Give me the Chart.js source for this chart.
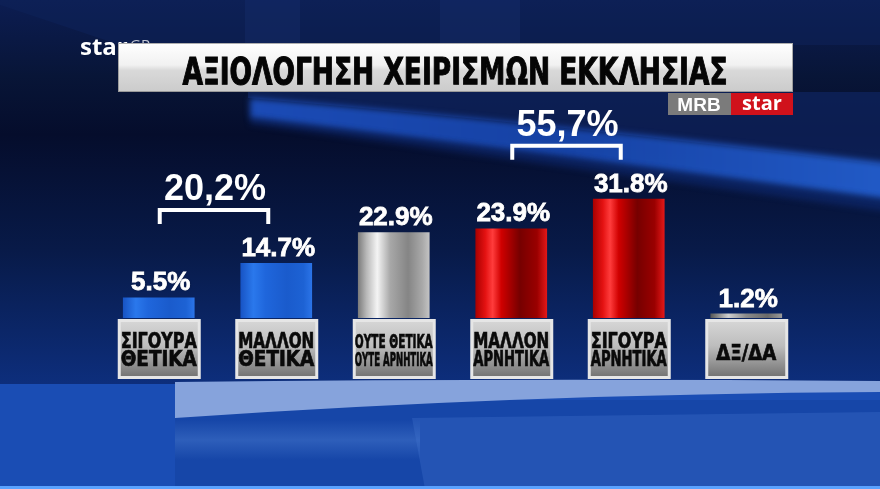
<!DOCTYPE html>
<html>
<head>
<meta charset="utf-8">
<script src="https://cdn.jsdelivr.net/npm/chart.js@4.4.1/dist/chart.umd.min.js"></script>
<style>
  html, body { margin: 0; padding: 0; background: #081640; }
  #wrap { width: 880px; height: 489px; }
</style>
</head>
<body>
<div id="wrap"><canvas id="pollChart" width="880" height="489"></canvas></div>
<script>
// data
const title = 'ΑΞΙΟΛΟΓΗΣΗ ΧΕΙΡΙΣΜΩΝ ΕΚΚΛΗΣΙΑΣ';
const categories = [
  ['ΣΙΓΟΥΡΑ', 'ΘΕΤΙΚΑ'],
  ['ΜΑΛΛΟΝ', 'ΘΕΤΙΚΑ'],
  ['ΟΥΤΕ ΘΕΤΙΚΑ', 'ΟΥΤΕ ΑΡΝΗΤΙΚΑ'],
  ['ΜΑΛΛΟΝ', 'ΑΡΝΗΤΙΚΑ'],
  ['ΣΙΓΟΥΡΑ', 'ΑΡΝΗΤΙΚΑ'],
  ['ΔΞ/ΔΑ']
];
const values = [5.5, 14.7, 22.9, 23.9, 31.8, 1.2];
const groupTotals = ['20,2%', '55,7%'];
const groupFirst = [0, 3];
const groupLast = [1, 4];

// bar look
const barKinds = ['blue', 'blue', 'silver', 'red', 'red', 'dark'];
const palettes = {
  blue: [[0, '#1753c4'], [0.18, '#2a78ec'], [0.35, '#1f66dc'], [0.65, '#1a5bcc'], [0.88, '#1d62d4'], [1, '#2b74e8']],
  silver: [[0, '#7a7a7a'], [0.12, '#b8b8b8'], [0.27, '#f4f4f4'], [0.45, '#a8a8a8'], [0.7, '#858585'], [0.9, '#a9a9a9'], [1, '#c4c4c4']],
  red: [[0, '#a80000'], [0.14, '#e41212'], [0.24, '#ff3c3c'], [0.36, '#d00000'], [0.62, '#760000'], [0.86, '#9a0000'], [1, '#e41818']],
  dark: [[0, '#555'], [0.25, '#cfcfcf'], [0.5, '#8a8a8a'], [0.8, '#6a6a6a'], [1, '#9a9a9a']]
};
const BAR_PCT = 0.61;

function barFill(c) {
  const chart = c.chart;
  const xs = chart.scales.x;
  const kind = barKinds[c.dataIndex];
  if (!xs || !chart.chartArea) return palettes[kind][2][1];
  const cx = xs.getPixelForValue(c.dataIndex);
  const w = xs.width / categories.length * BAR_PCT;
  const g = chart.ctx.createLinearGradient(cx - w / 2, 0, cx + w / 2, 0);
  palettes[kind].forEach(s => g.addColorStop(s[0], s[1]));
  return g;
}

const backdrop = {
  id: 'backdrop',
  beforeDraw(chart) {
    const ctx = chart.ctx;
    const W = chart.width, H = chart.height;
    ctx.save();
    let g = ctx.createLinearGradient(0, 0, 0, 384);
    g.addColorStop(0, '#0c1d52');
    g.addColorStop(0.2, '#081537');
    g.addColorStop(0.35, '#050d2c');
    g.addColorStop(0.65, '#081a48');
    g.addColorStop(1, '#0d2e7c');
    ctx.fillStyle = g;
    ctx.fillRect(0, 0, W, H);

    // lighter top strip and its diagonal edge on the left
    ctx.fillStyle = 'rgba(14,34,90,0.55)';
    ctx.beginPath();
    ctx.moveTo(0, 0); ctx.lineTo(W, 0); ctx.lineTo(W, 45); ctx.lineTo(120, 45); ctx.lineTo(0, 5);
    ctx.closePath(); ctx.fill();
    ctx.fillStyle = 'rgba(40,70,150,0.16)';
    ctx.fillRect(245, 0, 55, 43);
    ctx.fillRect(440, 0, 80, 43);

    // medium navy area under the title, right side
    ctx.fillStyle = 'rgba(16,40,105,0.6)';
    ctx.beginPath();
    ctx.moveTo(248, 92); ctx.lineTo(W, 92); ctx.lineTo(W, 165);
    ctx.quadraticCurveTo(560, 124, 248, 98);
    ctx.closePath(); ctx.fill();

    // blue swoosh band, soft edges
    ctx.filter = 'blur(3px)';
    g = ctx.createLinearGradient(248, 0, W, 0);
    g.addColorStop(0, 'rgba(30,82,196,0.9)');
    g.addColorStop(0.5, 'rgba(26,76,186,0.85)');
    g.addColorStop(1, 'rgba(36,96,210,0.92)');
    ctx.fillStyle = g;
    ctx.beginPath();
    ctx.moveTo(250, 98);
    ctx.quadraticCurveTo(560, 124, W + 10, 163);
    ctx.lineTo(W + 10, 200);
    ctx.quadraticCurveTo(560, 156, 250, 118);
    ctx.closePath(); ctx.fill();
    ctx.fillStyle = 'rgba(20,60,160,0.35)';
    ctx.beginPath();
    ctx.moveTo(250, 118);
    ctx.quadraticCurveTo(560, 156, W + 10, 200);
    ctx.lineTo(W + 10, 212);
    ctx.quadraticCurveTo(560, 166, 250, 124);
    ctx.closePath(); ctx.fill();
    ctx.filter = 'none';

    // floor
    ctx.fillStyle = '#1a4db4';
    ctx.fillRect(0, 384, W, H - 384);
    ctx.fillStyle = '#1646a8';
    ctx.fillRect(175, 400, W - 175, H - 400);
    ctx.fillStyle = '#86a3dc';
    ctx.beginPath();
    ctx.moveTo(175, 382);
    ctx.quadraticCurveTo(520, 378, W, 381);
    ctx.lineTo(W, 392);
    ctx.quadraticCurveTo(520, 394, 175, 418);
    ctx.closePath(); ctx.fill();
    g = ctx.createLinearGradient(0, 420, 0, 460);
    g.addColorStop(0, 'rgba(90,140,220,0)');
    g.addColorStop(0.5, 'rgba(90,140,220,0.35)');
    g.addColorStop(1, 'rgba(90,140,220,0)');
    ctx.fillStyle = g;
    ctx.fillRect(175, 420, 245, 40);
    ctx.fillStyle = 'rgba(70,120,210,0.3)';
    ctx.beginPath();
    ctx.moveTo(412, 418); ctx.lineTo(W, 412); ctx.lineTo(W, H); ctx.lineTo(425, H);
    ctx.closePath(); ctx.fill();
    ctx.fillStyle = '#5aa2ff';
    ctx.fillRect(0, 486, W, 3);

    // channel logo
    ctx.textBaseline = 'alphabetic';
    ctx.textAlign = 'left';
    ctx.font = '15px "Open Sans", sans-serif';
    ctx.fillStyle = 'rgba(255,255,255,0.75)';
    ctx.fillText('GR', 130, 50);
    ctx.fillStyle = '#ffffff';
    ctx.font = 'bold 24px "Open Sans", "DejaVu Sans", sans-serif';
    ctx.fillText('star', 80, 55);

    // title plate
    g = ctx.createLinearGradient(0, 43, 0, 92);
    g.addColorStop(0, '#ffffff');
    g.addColorStop(0.45, '#f1f1f1');
    g.addColorStop(0.56, '#d9d9d9');
    g.addColorStop(1, '#cbcbcb');
    ctx.fillStyle = g;
    ctx.fillRect(118, 43, 675, 49);
    ctx.strokeStyle = 'rgba(120,120,120,0.6)';
    ctx.lineWidth = 1;
    ctx.strokeRect(118.5, 43.5, 674, 48);
    ctx.fillStyle = '#050505';
    ctx.strokeStyle = '#050505';
    ctx.lineWidth = 1;
    ctx.font = 'bold 37px "Liberation Sans Narrow", "DejaVu Sans Condensed", sans-serif';
    ctx.textAlign = 'center';
    ctx.fillText(title, 455, 84, 545);
    ctx.strokeText(title, 455, 84, 545);

    // pollster tag
    ctx.fillStyle = '#7b7b7b';
    ctx.fillRect(668, 93, 63, 22);
    ctx.fillStyle = '#d0111b';
    ctx.fillRect(731, 93, 62, 22);
    ctx.fillStyle = '#ffffff';
    ctx.font = 'bold 19px "Liberation Sans", Arial, sans-serif';
    ctx.fillText('MRB', 699, 111);
    ctx.font = 'bold 20px "Open Sans", sans-serif';
    ctx.fillText('star', 762, 110);
    ctx.restore();
  }
};

const annotations = {
  id: 'annotations',
  afterDatasetsDraw(chart) {
    const ctx = chart.ctx;
    const meta = chart.getDatasetMeta(0);
    const base = chart.scales.y.getPixelForValue(0);
    ctx.save();
    ctx.textAlign = 'center';
    ctx.textBaseline = 'alphabetic';

    meta.data.forEach((bar, i) => {
      // value over the bar
      const txt = values[i].toFixed(1) + '%';
      ctx.fillStyle = '#ffffff';
      ctx.strokeStyle = '#ffffff';
      ctx.lineWidth = 0.8;
      ctx.font = 'bold 26px "Liberation Sans", Arial, sans-serif';
      ctx.shadowColor = 'rgba(0,0,0,0.5)';
      ctx.shadowBlur = 2;
      ctx.fillText(txt, bar.x + 2, bar.y - 7);
      ctx.shadowBlur = 0;
      ctx.strokeText(txt, bar.x + 2, bar.y - 7);

      // grey plate under the bar
      const x0 = bar.x - 41, y0 = base + 1, w = 83, h = 60;
      ctx.fillStyle = '#e6e6e6';
      ctx.fillRect(x0, y0, w, h);
      const g = ctx.createLinearGradient(0, y0, 0, y0 + h);
      g.addColorStop(0, '#d8d8d8');
      g.addColorStop(0.45, '#bdbdbd');
      g.addColorStop(1, '#6e6e6e');
      ctx.fillStyle = g;
      ctx.fillRect(x0 + 3, y0 + 3, w - 6, h - 6);
      ctx.fillStyle = '#0a0a0a';
      ctx.strokeStyle = '#0a0a0a';
      ctx.lineWidth = 0.7;
      const lines = categories[i];
      const small = lines[0].length > 8;
      ctx.font = (small ? 'bold 19px ' : 'bold 22px ') + '"Liberation Sans Narrow", "DejaVu Sans Condensed", sans-serif';
      if (lines.length === 1) {
        ctx.fillText(lines[0], bar.x, y0 + 41, 60);
        ctx.strokeText(lines[0], bar.x, y0 + 41, 60);
      } else {
        const mw = small ? 78 : 76;
        ctx.fillText(lines[0], bar.x, y0 + 29, mw);
        ctx.strokeText(lines[0], bar.x, y0 + 29, mw);
        ctx.fillText(lines[1], bar.x, y0 + 47, mw);
        ctx.strokeText(lines[1], bar.x, y0 + 47, mw);
      }
    });

    // brackets with group totals
    groupTotals.forEach((txt, k) => {
      const a = meta.data[groupFirst[k]], b = meta.data[groupLast[k]];
      const top = Math.min(a.y, b.y);
      const yLine = top - 53;
      const xa = a.x + 1, xb = b.x - 8;
      ctx.strokeStyle = '#ffffff';
      ctx.lineWidth = 4;
      ctx.beginPath();
      ctx.moveTo(xa, yLine + 14);
      ctx.lineTo(xa, yLine);
      ctx.lineTo(xb, yLine);
      ctx.lineTo(xb, yLine + 14);
      ctx.stroke();
      ctx.fillStyle = '#ffffff';
      ctx.font = 'bold 36px "Liberation Sans", Arial, sans-serif';
      ctx.fillText(txt, (xa + xb) / 2 + 1, yLine - 10);
    });
    ctx.restore();
  }
};

new Chart(document.getElementById('pollChart'), {
  type: 'bar',
  data: {
    labels: categories.map(l => l.join(' ')),
    datasets: [{
      data: values,
      backgroundColor: barFill,
      borderWidth: 0,
      categoryPercentage: 1,
      barPercentage: BAR_PCT
    }]
  },
  options: {
    responsive: false,
    animation: false,
    layout: { padding: { left: 100, right: 75, top: 168, bottom: 171 } },
    plugins: { legend: { display: false }, tooltip: { enabled: false } },
    scales: {
      x: { display: false },
      y: { display: false, min: 0, max: 40 }
    }
  },
  plugins: [backdrop, annotations]
});
</script>
</body>
</html>
